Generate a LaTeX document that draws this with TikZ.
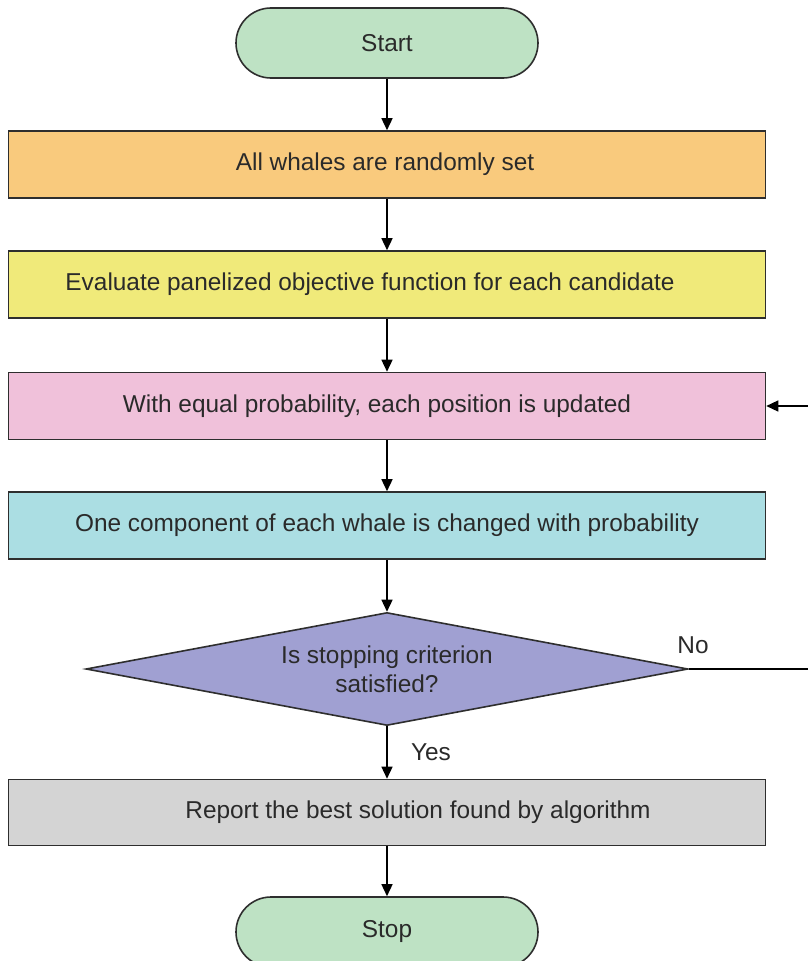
\documentclass[tikz,border=0pt]{standalone}
\usepackage{fontspec}
\setmainfont{Liberation Sans}
\usetikzlibrary{shapes.geometric,arrows.meta}
\definecolor{termgreen}{HTML}{BEE2C4}
\definecolor{boxorange}{HTML}{F9CA7D}
\definecolor{boxyellow}{HTML}{F0EA7A}
\definecolor{boxpink}{HTML}{F0C1DA}
\definecolor{boxcyan}{HTML}{ABDEE3}
\definecolor{boxgray}{HTML}{D4D4D4}
\definecolor{decisionblue}{HTML}{A0A0D2}
\definecolor{linegray}{HTML}{2E2E2E}
\definecolor{textgray}{HTML}{2A2A2A}
\begin{document}
\begin{tikzpicture}[x=1pt,y=-1pt,font=\fontsize{24.4}{29}\selectfont,
  terminal/.style={draw=linegray,line width=1.6pt,fill=termgreen,text=textgray,rounded corners=35pt,minimum width=302pt,minimum height=70pt},
  stepbox/.style={draw=linegray,line width=1.6pt,text=textgray,minimum width=757pt,minimum height=67pt},
  decision/.style={diamond,draw=linegray,line width=1.6pt,fill=decisionblue,text=textgray,aspect=5.33,minimum width=602pt,minimum height=113pt,inner sep=0pt,align=center},
  flow/.style={line width=1.5pt,draw=black,-{Triangle[length=12pt,width=11pt]}}]
\useasboundingbox (0,0) rectangle (808,961);

\node[terminal] (start) at (387,43) {Start};
\node[stepbox,fill=boxorange] (init) at (387,164.5) {All whales are randomly set\hspace*{4pt}};
\node[stepbox,fill=boxyellow] (eval) at (387,284.5) {Evaluate panelized objective function for each candidate\hspace*{34pt}};
\node[stepbox,fill=boxpink] (update) at (387,406) {With equal probability, each position is updated\hspace*{20pt}};
\node[stepbox,fill=boxcyan] (change) at (387,525.5) {One component of each whale is changed with probability};
\node[decision] (test) at (387,669) {Is stopping criterion\\satisfied?};
\node[stepbox,fill=boxgray,minimum height=66pt] (report) at (387,812.5) {\hspace*{62pt}Report the best solution found by algorithm};
\node[terminal] (stop) at (387,932) {Stop};

\node[text=textgray] (no) at (693,645) {No};
\node[text=textgray] (yes) at (431,752) {Yes};
\coordinate (turn) at (830,669);

\draw[flow] (start) -- (init);
\draw[flow] (init) -- (eval);
\draw[flow] (eval) -- (update);
\draw[flow] (update) -- (change);
\draw[flow] (change) -- (test);
\draw[flow] (test) -- (report);
\draw[flow] (report) -- (stop);
\draw[flow] (test.east) -- (turn) |- (update.east);

\end{tikzpicture}
\end{document}
